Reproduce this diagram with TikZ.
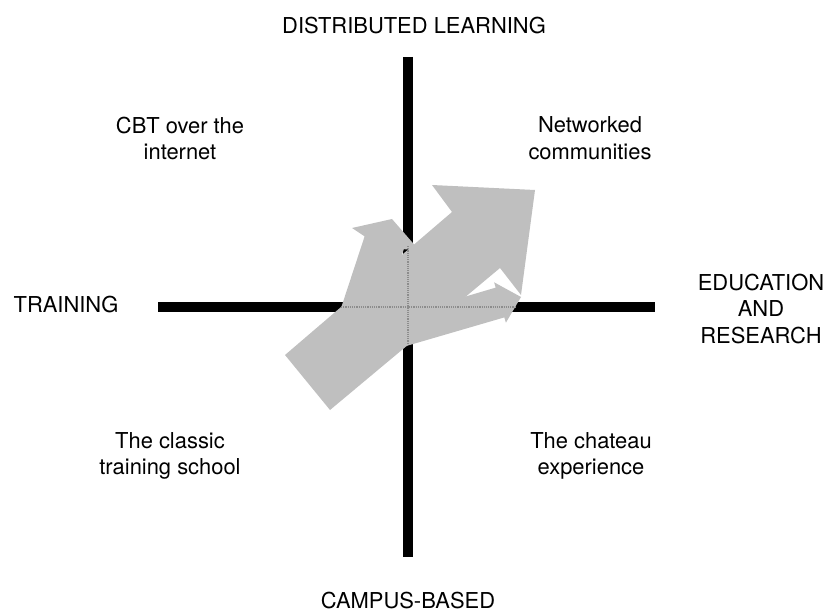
\documentclass[tikz,border=0pt]{standalone}
\usepackage{fontspec}
\setmainfont{TeX Gyre Heros}

\begin{document}
\begin{tikzpicture}[x=1bp,y=-1bp,
    every node/.style={font=\fontsize{22}{26.5}\selectfont,inner sep=0pt,align=center},
    axis/.style={line width=10bp},
    flow/.style={fill=black!25},
    hidden/.style={black!45,densely dotted,line width=1.2bp}]
  \useasboundingbox (0,0) rectangle (829,612);

  % the two axes
  \coordinate (N) at (408,57);
  \coordinate (S) at (408,557);
  \coordinate (W) at (158,307);
  \coordinate (E) at (655,307);
  \draw[axis] (N) -- (S);
  \draw[axis] (W) -- (E);

  % axis ends
  \node (dist) at (414,25.5) {DISTRIBUTED LEARNING};
  \node (camp) at (408,600.5) {CAMPUS-BASED};
  \node (train) at (66,305) {TRAINING};
  \node (edu) at (761,309) {EDUCATION\\AND\\RESEARCH};

  % quadrants
  \node (cbt) at (180,138.5) {CBT over the\\internet};
  \node (net) at (590,138) {Networked\\communities};
  \node (classic) at (170,455.8) {The classic\\training school};
  \node (chateau) at (591,455.8) {The chateau\\experience};

  % big arrow to the upper right
  \fill[flow] (285,355) -- (452,212) -- (432,185) -- (535,190)
    -- (521,295) -- (500,268) -- (330,410) -- cycle;
  % smaller arrow going up
  \fill[flow] (334.6,327.6) -- (364.6,236.4) -- (352,228) -- (392,219)
    -- (418.9,250) -- (403.8,249.2) -- (373.8,340.4) -- cycle;
  % smaller arrow going right
  \fill[flow] (390,318.9) -- (495.7,287.6) -- (494.1,282.3) -- (521,297)
    -- (505.9,322.7) -- (504.3,317.4) -- (398.7,348.2) -- cycle;

  % axes seen through the arrows
  \coordinate (hw) at (341,307);
  \coordinate (he) at (515,307);
  \coordinate (vn) at (408,246);
  \coordinate (vs) at (408,344);
  \draw[hidden] (hw) -- (he);
  \draw[hidden] (vn) -- (vs);
\end{tikzpicture}
\end{document}
